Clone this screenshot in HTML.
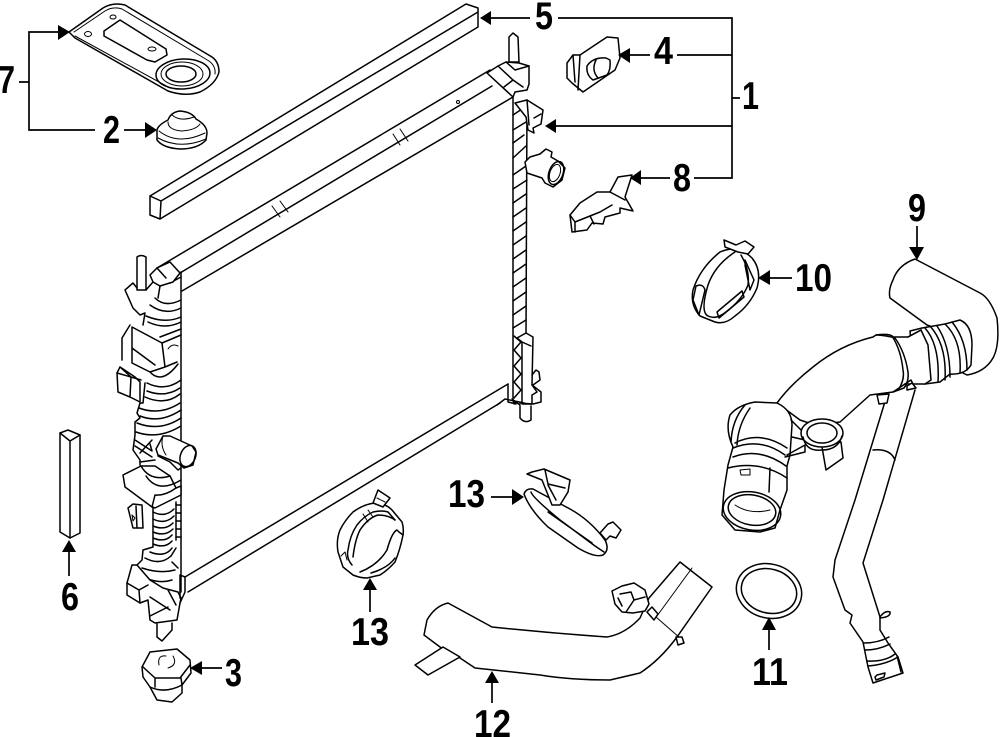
<!DOCTYPE html>
<html><head><meta charset="utf-8"><style>
html,body{margin:0;padding:0;background:#fff}
svg{display:block}
.p{fill:none;stroke:#000;stroke-width:1.5;stroke-linejoin:round;stroke-linecap:round}
.w{fill:#fff;stroke:#000;stroke-width:1.5;stroke-linejoin:round;stroke-linecap:round}
.t{fill:none;stroke:#000;stroke-width:1;stroke-linejoin:round;stroke-linecap:round}
.c{fill:none;stroke:#000;stroke-width:1.7}
.a{fill:#000;stroke:none}
text{font-family:"Liberation Sans",sans-serif;font-weight:bold;font-size:39px;fill:#000}
</style></head><body>
<svg width="1000" height="737" viewBox="0 0 1000 737" xmlns="http://www.w3.org/2000/svg">
<rect width="1000" height="737" fill="#fff"/>

<!-- 7 gasket -->
<path class="w" d="M69 32 L103 8 Q113 2 125 5 L212 57 Q219 62 219 72 Q216 84 200 92 Q185 97 168 91 L75 38 Z"/>
<path class="t" d="M74 32 L105 11 Q113 6 122 9 L209 61 Q216 66 215 74"/>
<path class="t" d="M75 36 L170 88"/>
<path class="p" d="M104 31 L120 20 L166 49 L167 55 L155 62 L147 60 L104 36 Z"/>
<ellipse class="t" cx="88" cy="34" rx="3.5" ry="2.5"/><ellipse class="t" cx="113" cy="17" rx="3" ry="2"/><ellipse class="t" cx="152" cy="49" rx="4" ry="2"/>
<ellipse class="p" cx="183" cy="74" rx="27" ry="15" transform="rotate(-3 183 74)"/>
<ellipse class="t" cx="182" cy="74" rx="21" ry="12"/><ellipse class="p" cx="181" cy="74" rx="15" ry="8"/>

<!-- 2 grommet -->
<path class="w" d="M157 130 Q158 125 168 120 Q171 112 180 111 Q192 112 196 119 Q207 125 207 133 L206 140 Q198 149 180 149 Q163 148 157 140 Z"/>
<path class="t" d="M159 131 Q178 146 205 133 M158 138 Q180 150 206 139 M168 122 Q168 130 182 131 Q196 130 200 124 M172 115 Q180 122 194 117"/>

<!-- 5 bar -->
<path class="w" d="M150 196 L466 4 L478 8 L478 27 L160 219 L150 215 Z"/>
<path class="p" d="M150 196 L161 201 L478 12 M161 201 L160 219"/>

<!-- radiator frame -->
<path class="p" d="M157 268 L490 70 M180 273 L492 86 M182 291 L513 97"/>
<path class="t" d="M272 206 L280 217 M280 201 L288 212 M393 134 L400 145 M400 129 L408 141"/>
<path class="p" d="M181 272 L181 592 M513 97 L513 400"/>
<path class="p" d="M185 577 L508 384 M188 592 L500 403"/>
<circle class="t" cx="458" cy="102" r="1.5"/>

<!-- right tank -->
<path class="p" d="M527 100 L526 335"/>
<path class="p" d="M513 115 L525 107 M513 130 L526 122 M513 143 L524 135 M513 158 L526 146 M513 175 L526 166 M513 189 L527 180 M513 203 L526 194 M513 217 L526 208 M513 231 L526 222 M513 245 L526 236 M513 259 L526 250 M513 273 L526 264 M513 287 L526 278 M513 301 L526 292 M513 315 L526 306 M513 328 L526 320"/>
<path class="p" d="M514 336 L521 342 L514 350 L521 358 L514 366 L521 374 L514 382 L521 390 L514 398"/>
<path class="w" d="M517 338 L526 333 L533 337 L532 385 L537 392 L532 395 L532 404 L522 404 L522 342 Z"/>
<path class="p" d="M532 375 L536 370 L539 372 L540 380 L533 385 M532 385 L541 392 L541 402 L533 404"/>
<path class="p" d="M522 342 L531 346 M508 384 L508 402 L516 404 M497 405 L505 399 L524 403"/>
<path class="w" d="M520 406 L520 418 Q525 424 531 420 L531 406"/>
<path class="p" d="M520 403 L532 404 M513 400 L520 405"/>
<path class="a" d="M511 398 L518 402 L514 405 Z"/>

<!-- top right of radiator -->
<path class="w" d="M509 37 L513 33 L518 37 L519 62 L509 62 Z"/>
<path class="w" d="M487 73 L498 66 L506 62 L519 63 L529 66 L529 84 L527 90 L515 92 L513 97 Z"/>
<path class="p" d="M498 66 L513 80 L523 87 M506 62 L515 70 L529 66 M513 80 L504 87"/>
<path class="w" d="M515 103 L527 100 L543 110 L541 124 L533 128 L534 133 L528 130 L526 117 Z"/>
<path class="p" d="M527 100 L529 125 M534 118 L541 114"/>

<!-- right outlet -->
<path class="w" d="M525 162 L530 157 L540 154 L546 149 L552 152 L551 157 L558 161 L565 168 L562 180 L553 187 L545 183 L542 178 L527 173 Z"/>
<ellipse class="p" cx="556" cy="173" rx="7" ry="12" transform="rotate(20 556 173)"/>
<ellipse class="t" cx="555" cy="173" rx="5" ry="9" transform="rotate(20 555 173)"/>

<!-- 4 -->
<path class="w" d="M567 63 L573 55 L580 55 L607 37 L618 38 L620 58 L615 70 L583 92 L572 83 L567 78 Z"/>
<path class="p" d="M580 55 L578 90 M573 55 L575 82"/>
<path class="p" d="M587 66 Q593 57 606 58 L610 60 Q611 70 607 75 L593 80 Q586 75 587 66 Z M598 78 Q591 70 596 60"/>

<!-- 8 -->
<path class="w" d="M570 215 L580 203 L597 192 L610 192 L618 177 L632 175 L625 197 L633 211 L620 208 L620 213 L605 217 L603 224 L592 223 L587 230 L572 232 Z"/>
<path class="p" d="M570 215 L575 222 L575 232 M575 222 L600 212 M590 216 L594 224 M610 192 L625 200 M600 212 L612 205"/>

<!-- left tank (no base outline) -->
<path class="w" d="M137 257 Q141 254 146 257 L146 290 L137 290 Z"/>
<path class="p" d="M133 283 L125 290 L133 308 L140 315 L145 313 L143 325 M133 283 L137 288 M146 290 L153 282 L170 283 L181 277"/>
<path class="w" d="M150 275 L157 268 L170 262 L180 273 L173 282 L160 286 L153 282 Z"/>
<path class="p" d="M157 268 L166 278 M160 286 L158 298 M155 298 Q165 308 181 300 M150 305 Q165 316 181 308 M146 316 Q165 324 181 317 M148 322 Q165 330 181 322"/>
<path class="p" d="M130 325 L122 338 L122 360 M132 327 L132 363 L150 372 L165 367 L177 362 M132 327 L162 343 L181 335 M132 348 L155 365 M162 343 L165 367 M160 337 L181 329"/>
<path class="t" d="M168 349 Q172 343 178 346"/>
<path class="w" d="M120 367 L135 377 L140 382 L140 402 L130 397 L118 392 L117 373 Z"/>
<path class="p" d="M120 367 L131 377 L130 397 M117 373 L131 377 L141 380 M145 383 L143 403 L140 403"/>
<path class="p" d="M150 372 Q162 385 178 364 M147 383 Q165 392 181 380 M147 391 Q165 398 180 388 M145 397 Q165 406 180 394"/>
<path class="p" d="M140 403 L137 413 L140 418 L135 422 L135 435 L133 450 L140 460 L140 465"/>
<path class="p" d="M139 408 Q160 416 180 403 M140 416 Q160 424 181 410 M137 423 Q160 432 181 418 M136 432 Q158 440 181 426 M135 440 L152 451 L150 444 M135 446 L152 457 M140 453 L152 440 M140 462 L155 460"/>
<!-- left outlet -->
<path class="w" d="M156 449 L163 436 L170 436 L192 446 L196 452 L193 465 L184 468 L178 463 L158 455 Z"/>
<ellipse class="p" cx="188" cy="456" rx="7.5" ry="11" transform="rotate(22 188 456)"/>
<path class="t" d="M163 436 Q160 446 166 455"/>
<path class="p" d="M158 456 L170 462 L178 470 L181 468"/>
<!-- lower housing -->
<path class="w" d="M123 475 L137 468 L141 466 L155 466 L170 476 L176 488 L181 486 L181 495 L155 508 L152 507 L125 487 Z"/>
<path class="p" d="M141 466 Q150 482 170 476 M146 476 Q158 494 181 480 M152 507 L155 495 M155 495 Q165 496 176 488"/>
<path class="p" d="M153 507 L153 547 L143 550 L142 560 L137 565 M176 502 L176 540"/>
<path class="p" d="M153 512 Q165 518 174 509 M153 519 Q165 525 174 516 M153 526 Q165 531 173 523 M153 532 Q165 537 173 529 M153 538 Q165 543 172 535 M153 544 Q165 549 172 541 M150 552 Q165 558 172 548 M145 558 Q160 566 171 556"/>
<path class="p" d="M176 505 L181 505 M176 513 L181 513 M176 521 L181 521 M176 529 L181 529 M176 537 L181 537 M171 556 L176 548 M172 562 L178 568"/>
<path class="w" d="M128 508 L133 504 L142 505 L143 528 L133 528 Z"/>
<path class="p" d="M136 506 L137 528"/>
<path class="t" d="M132 515 L135 518 L133 521 Z"/>
<path class="p" d="M142 568 Q160 574 175 570 M145 578 Q160 584 172 580"/>
<path class="w" d="M132 565 L137 565 L150 580 L163 588 L178 592 L181 598 L180 603 L177 620 L155 623 L150 620 L148 600 L140 603 L127 595 L127 583 Z"/>
<path class="p" d="M127 583 L139 590 L148 585 M139 590 L140 603 M150 597 L170 610 M150 616 L168 607 M168 590 L176 605 M180 575 L185 577 L185 592 L180 603 M180 575 L180 598"/>
<path class="w" d="M157 624 L157 637 L162 641 L172 630 L172 623"/>

<!-- 3 cap -->
<path class="w" d="M142 667 L150 652 L177 649 L190 660 L191 673 L182 685 L182 693 L172 702 L157 700 L150 687 L143 677 Z"/>
<path class="p" d="M143 667 L155 678 L180 678 L190 665 M155 678 L155 687 M181 678 L182 685 M150 687 Q165 694 182 685"/>
<path class="t" d="M159 665 Q157 655 166 656 M173 656 Q178 665 168 668"/>

<!-- 6 -->
<path class="w" d="M60 433 L68 430 L80 435 L80 533 L70 538 L60 532 Z"/>
<path class="p" d="M60 433 L70 441 L80 435 M70 441 L70 538"/>

<!-- 13 lower clamp -->
<path class="w" d="M338 552 Q336 540 340 530 Q345 520 353 512 Q364 504 375 503 Q385 503 392 510 L402 522 Q404 528 403 535 Q400 550 395 562 Q388 570 380 575 L367 578 Q360 578 353 575 L343 567 Z"/>
<path class="p" d="M352 565 Q346 558 348 550 Q350 535 357 525 Q364 516 373 512 Q382 510 388 512 L395 520"/>
<path class="p" d="M353 557 Q355 540 360 530 Q368 518 378 515 Q388 515 395 520 M399 532 L397 530 Q392 532 387 550 Q378 565 360 572 M403 535 L399 532 M395 558 Q388 568 371 573"/>
<path class="t" d="M341 556 L345 552 L347 560 M363 514 L368 522 M368 510 L373 517"/>
<path class="w" d="M373 503 L378 490 L390 498 L383 507 Z"/>
<path class="t" d="M377 498 L385 502"/>

<!-- 13 upper clamp -->
<path class="w" d="M524 494 Q526 488 533 489 L570 509 Q590 520 605 540 Q610 550 603 555 Q595 558 578 548 L548 527 Q530 510 524 494 Z"/>
<path class="p" d="M531 492 Q532 497 560 520 L595 546 L604 552 M548 512 L592 543"/>
<path class="w" d="M527 474 L532 472 L544 469 L570 480 L568 492 L560 505 L552 505 L542 480 Z"/>
<path class="p" d="M545 470 L548 484 L565 488 M548 485 L556 500"/>
<path class="w" d="M600 533 L608 524 L613 522 L621 530 L616 538 L610 536 L606 540 Z"/>

<!-- 10 clamp -->
<path class="w" d="M693 290 Q700 268 720 252 Q738 244 752 258 Q762 270 757 288 Q750 305 735 316 Q725 325 715 322 L700 316 Q690 305 693 290 Z"/>
<path class="p" d="M708 285 Q715 265 735 252 M741 255 Q750 270 748 285 Q742 300 726 312 Q716 320 708 316 Q700 312 708 285"/>
<path class="p" d="M696 286 Q703 283 705 290 L699 315 L693 300 Z M745 260 L754 280 L750 290 L745 265 M719 318 L744 297 L742 291 L717 312 Z"/>
<path class="w" d="M724 240 L736 245 L745 241 L754 247 L748 254 L738 252 L725 247 Z"/>

<!-- 9 upper hose -->
<path class="w" d="M915 259 Q898 265 893 280 Q888 290 890 298 L927 325 L953 335 L957 370 L967 375 Q985 372 993 358 Q1000 345 997 318 Q990 298 980 293 Z"/>
<path class="w" d="M910 331 L922 328 L945 324 L960 320 Q972 325 972 345 L971 365 Q965 375 950 374 L940 382 L925 384 L914 382 Z"/>
<path class="p" d="M925 328 Q940 345 938 382 M930 326 Q947 345 945 380 M937 326 Q950 345 950 377 M945 324 Q962 340 960 373 M952 322 Q967 340 967 370"/>
<path class="w" d="M777 403 Q790 385 813 367 Q840 345 873 337 L876 335 Q890 333 893 337 L908 337 L921 330 L928 345 L931 380 L925 384 L912 384 L905 384 L893 392 L870 395 L840 422 L815 425 L800 420 Z"/>
<path class="p" d="M876 335 Q884 335 895 338 Q905 352 908 372 Q909 382 904 388 L893 392 M892 336 Q901 350 903 370 Q905 380 898 390"/>
<path class="p" d="M908 337 L921 330 M905 384 L911 380 L915 388"/>

<!-- elbow -->
<path class="w" d="M733 447 Q725 430 730 415 Q738 405 755 402 L777 403 Q792 410 792 425 L790 455 L787 466 L787 490 L780 510 L775 528 L760 532 L735 530 L722 515 L724 490 L728 465 Z"/>
<path class="p" d="M737 445 Q738 425 750 408 M731 442 Q732 420 745 405"/>
<path class="p" d="M735 443 Q760 430 787 448 M733 448 Q760 437 785 455 M733 457 Q760 447 786 466 M728 468 Q760 460 787 478 M770 468 L769 492"/>
<path class="t" d="M740 470 L750 469 L750 475 L741 475 Z"/>
<ellipse class="p" cx="752" cy="511" rx="29" ry="19" transform="rotate(10 752 511)"/>
<ellipse class="p" cx="752" cy="510" rx="24" ry="15" transform="rotate(10 752 510)"/>
<path class="t" d="M735 505 Q750 515 770 510"/>

<!-- connecting strut + port -->
<path class="p" d="M791 420 L803 432 M792 437 L805 440 M787 455 L805 445 L805 452 L785 457"/>
<path class="w" d="M822 447 L826 470 L843 458 L841 442 Z"/>
<ellipse class="w" cx="822" cy="433" rx="21" ry="14"/>
<ellipse class="p" cx="822" cy="433" rx="15" ry="10"/>
<path class="p" d="M803 437 Q806 452 822 450 Q838 450 842 436"/>

<!-- filler tube -->
<path class="p" d="M887 395 L855 500 L835 560 L833 577 L845 610 L852 615 L850 623 L863 642 L865 652 L868 667 L873 683 L903 673 L898 657 L888 643 L880 630 L880 617 L863 563 L883 500 L915 390"/>
<path class="w" d="M877 395 L879 404 L887 403 L889 394 Z"/>
<path class="w" d="M907 386 L912 383 L916 388 L907 390 Z"/>
<path class="p" d="M873 450 Q890 448 895 460"/>
<path class="p" d="M864 643 Q878 643 889 637 M865 650 Q878 650 890 644 M868 666 Q885 665 898 657 M867 661 Q885 662 895 654 M897 656 L901 672"/>
<path class="p" d="M875 677 L876 680 L884 677 L885 673 L877 675 Z"/>
<path class="w" d="M880 617 Q885 610 890 612 Q891 617 880 618"/>

<!-- 11 ring -->
<ellipse class="p" cx="769" cy="591" rx="33" ry="27" transform="rotate(15 769 591)"/>
<ellipse class="p" cx="769" cy="591" rx="28" ry="22" transform="rotate(15 769 591)"/>

<!-- 12 hose -->
<path class="w" d="M448 603 L492 627 Q550 633 607 637 Q625 634 640 618 L649 598 L680 562 L712 587 L677 637 Q660 660 640 673 L610 680 Q570 680 540 675 L475 668 L460 658 L440 647 L424 635 L427 620 Q435 606 448 603 Z"/>
<path class="w" d="M415 665 L443 647 L460 657 L428 675 Z"/>
<path class="t" d="M692 568 L657 616 M648 610 L680 638"/>
<path class="w" d="M647 612 L652 607 L658 614 L654 620 Z"/>
<path class="w" d="M676 637 L682 637 L684 643 L678 645 Z"/>
<path class="w" d="M612 591 L622 586 L634 583 L645 590 L649 604 L645 611 L633 613 L622 612 L615 604 Z"/>
<path class="p" d="M620 594 L631 592 L634 600 L626 612 M634 600 L645 597 M622 606 L618 598"/>

<!-- leader lines -->
<path class="c" d="M58 32 L29 32 L29 130 L95 130 M19 82 L29 82"/>
<path class="a" d="M70 32 L58 25 L58 40 Z"/>
<path class="c" d="M124 130 L146 130"/><path class="a" d="M157 130 L145 122 L145 138 Z"/>
<path class="c" d="M490 18 L530 18 M558 18 L732 18 L732 178 L694 178 M732 98 L740 98 M677 55 L732 55 M732 126 L556 126"/>
<path class="a" d="M480 18 L491 11 L491 25 Z"/>
<path class="c" d="M628 55 L650 55"/><path class="a" d="M618 55 L630 48 L630 63 Z"/>
<path class="a" d="M545 126 L556 119 L556 133 Z"/>
<path class="c" d="M638 178 L670 178"/><path class="a" d="M630 178 L641 170 L641 185 Z"/>
<path class="c" d="M200 668 L222 668"/><path class="a" d="M190 668 L202 661 L202 675 Z"/>
<path class="c" d="M69 550 L69 576"/><path class="a" d="M69 540 L62 552 L76 552 Z"/>
<path class="c" d="M917 226 L917 248"/><path class="a" d="M917 260 L909 247 L924 247 Z"/>
<path class="c" d="M768 278 L792 278"/><path class="a" d="M758 278 L770 270 L770 285 Z"/>
<path class="c" d="M491 497 L514 497"/><path class="a" d="M524 497 L512 489 L512 505 Z"/>
<path class="c" d="M370 588 L370 612"/><path class="a" d="M370 578 L363 590 L377 590 Z"/>
<path class="c" d="M492 681 L492 703"/><path class="a" d="M492 671 L485 683 L499 683 Z"/>
<path class="c" d="M769 628 L769 650"/><path class="a" d="M769 617 L762 630 L776 630 Z"/>

<!-- labels -->
<text x="-2" y="93" textLength="17" lengthAdjust="spacingAndGlyphs">7</text>
<text x="103" y="143" textLength="17" lengthAdjust="spacingAndGlyphs">2</text>
<text x="535" y="29" textLength="18" lengthAdjust="spacingAndGlyphs">5</text>
<text x="654" y="64" textLength="19" lengthAdjust="spacingAndGlyphs">4</text>
<text x="742" y="109" textLength="17" lengthAdjust="spacingAndGlyphs">1</text>
<text x="673" y="191" textLength="18" lengthAdjust="spacingAndGlyphs">8</text>
<text x="225" y="686" textLength="17" lengthAdjust="spacingAndGlyphs">3</text>
<text x="61" y="610" textLength="18" lengthAdjust="spacingAndGlyphs">6</text>
<text x="908" y="221" textLength="18" lengthAdjust="spacingAndGlyphs">9</text>
<text x="795" y="291" textLength="37" lengthAdjust="spacingAndGlyphs">10</text>
<text x="448" y="507" textLength="37" lengthAdjust="spacingAndGlyphs">13</text>
<text x="351" y="645" textLength="38" lengthAdjust="spacingAndGlyphs">13</text>
<text x="474" y="737" textLength="37" lengthAdjust="spacingAndGlyphs">12</text>
<text x="752" y="685" textLength="36" lengthAdjust="spacingAndGlyphs">11</text>
</svg>
</body></html>
